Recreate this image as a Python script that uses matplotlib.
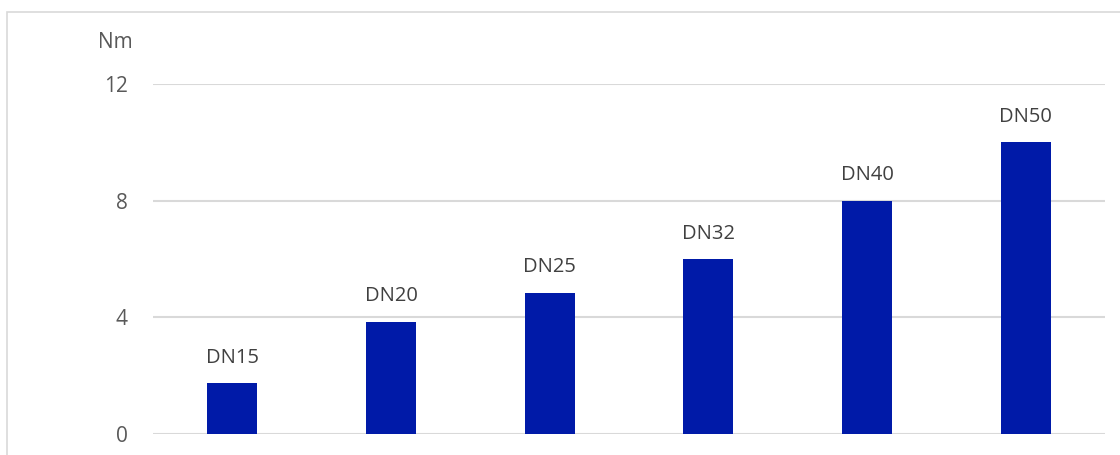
import matplotlib.pyplot as plt
from matplotlib.patches import Rectangle

sizes = ["DN15", "DN20", "DN25", "DN32", "DN40", "DN50"]
torque = [1.75, 3.85, 4.85, 6.0, 8.0, 10.0]
yticks = [0, 4, 8, 12]

plt.rcParams['font.family'] = ['Open Sans', 'DejaVu Sans']

fig = plt.figure(figsize=(11.2, 4.55), dpi=100)
ax = fig.add_axes([153 / 1120, 1 - 434 / 455, 952 / 1120, 350 / 455])

x = range(len(sizes))
bars = ax.bar(x, torque, width=0.315, color='#001AA8', zorder=3)

for rect, name in zip(bars, sizes):
    ax.annotate(name, (rect.get_x() + rect.get_width() / 2, rect.get_height()),
                xytext=(0, 11), textcoords='offset points',
                ha='center', va='bottom', fontsize=14.5, color='#404040')

ax.set_xlim(-0.5, len(sizes) - 0.5)
ax.set_ylim(0, 12)
ax.set_yticks(yticks)
ax.set_xticks([])
ax.tick_params(axis='y', length=0, pad=18, labelsize=15, labelcolor='#595959')
ax.grid(axis='y', color='#d9d9d9', linewidth=1.5, zorder=0)
for s in ax.spines.values():
    s.set_visible(False)

fig.text(115 / 1120, 1 - 42 / 455, "Nm", ha='center', va='center',
         fontsize=15, color='#595959')

# outer chart border, only top and left visible in the crop
fig.add_artist(Rectangle((7 / 1120, -0.1), 1.2, 1 - 12 / 455 + 0.1,
                         transform=fig.transFigure, fill=False,
                         edgecolor='#d9d9d9', linewidth=1.2))

fig.savefig('out.png', dpi=100)
